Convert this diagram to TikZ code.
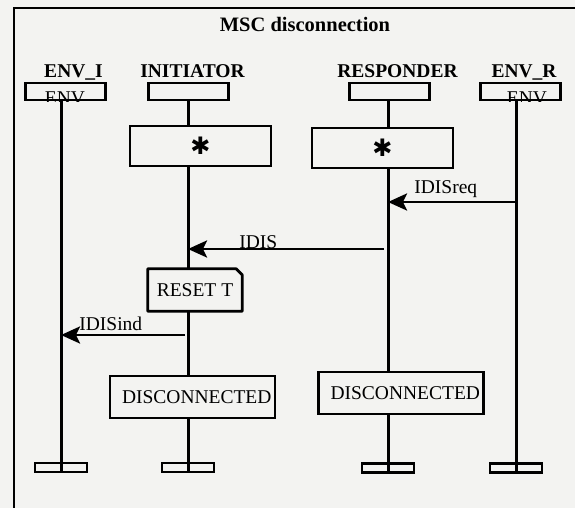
\documentclass[tikz,border=0pt]{standalone}
\usepackage{fontspec}
\setmainfont{Liberation Serif}
\newfontfamily\symfont{DejaVu Sans}
\usetikzlibrary{arrows.meta,backgrounds}
\definecolor{paper}{RGB}{243,243,241}
\tikzset{
  instbox/.style={rectangle,draw,line width=2.8pt,fill=paper,
    minimum width=80pt,minimum height=17pt,inner sep=0pt},
  condbox/.style={rectangle,draw,line width=2.8pt,fill=paper,
    minimum width=141pt,minimum height=40pt,inner sep=0pt,
    font=\symfont\fontsize{24}{24}\selectfont},
  discbox/.style={rectangle,draw,line width=2.8pt,fill=paper,
    text width=158pt,align=right,inner xsep=3.5pt,minimum height=42pt,
    font=\fontsize{19.5}{21}\selectfont},
  timerbox/.style={rectangle,fill=paper,minimum width=94pt,minimum height=42pt,
    inner sep=0pt,font=\fontsize{19.5}{21}\selectfont},
  endbar/.style={rectangle,draw,line width=2.2pt,
    minimum width=52pt,minimum height=9pt,inner sep=0pt},
  envtext/.style={font=\fontsize{19.5}{21}\selectfont,inner sep=0pt,anchor=north},
  lifeline/.style={line width=3pt},
  msg/.style={line width=2.8pt,-{Stealth[length=19pt,width=17pt,inset=4pt]}},
  instname/.style={font=\fontsize{19.5}{21}\selectfont\bfseries,anchor=base},
  msgname/.style={font=\fontsize{19.5}{21}\selectfont,anchor=base west,inner sep=0pt}
}

\begin{document}
\begin{tikzpicture}[x=1pt,y=-1pt]
\useasboundingbox (0,0) rectangle (575,508);
\clip (0,0) rectangle (575,508);
\draw[line width=2.8pt] (14,8) rectangle (620,560);
\node[font=\fontsize{20.5}{22}\selectfont\bfseries,anchor=base] (title) at (305,32)
  {MSC disconnection};
% ---------------- instance heads ----------------
\node[instname] (envIlab) at (73.5,78) {ENV\_I};
\node[instname] (initlab) at (192.5,78) {INITIATOR};
\node[instname] (resplab) at (397.5,78) {RESPONDER};
\node[instname] (envRlab) at (524,78) {ENV\_R};
\node[instbox] (envIhead) at (65.5,91.5) {};
\node[instbox] (inithead) at (188.5,91.5) {};
\node[instbox] (resphead) at (389.5,91.5) {};
\node[instbox] (envRhead) at (520.5,91.5) {};
\begin{scope}
  \clip (envIhead.south west) rectangle (envIhead.north east);
  \node[envtext] (envItxt) at (65,92) {ENV};
\end{scope}
\begin{scope}
  \clip (envRhead.south west) rectangle (envRhead.north east);
  \node[envtext] (envRtxt) at (527,92) {ENV};
\end{scope}
% ---------------- conditions and timer ----------------
\node[condbox] (initstar) at (200.5,146) {\raisebox{-7pt}{✱}};
\node[condbox] (respstar) at (382.5,148) {\raisebox{-7pt}{✱}};
\node[timerbox] (reset) at (195,290) {RESET T};
\draw[line width=2.8pt,line join=round] (reset.south west) -- (reset.north west)
  -- ([xshift=-6pt]reset.north east) -- ([yshift=-6pt]reset.north east)
  -- (reset.south east) -- cycle;
\node[discbox] (initdisc) at (192.5,397) {DISCONNECTED};
\node[discbox] (respdisc) at (401,393) {DISCONNECTED};
% ---------------- instance ends ----------------
\node[endbar] (envIend) at (61,467.5) {};
\node[endbar] (initend) at (188,467.5) {};
\node[endbar] (respend) at (388,468) {};
\node[endbar] (envRend) at (516,468) {};
% ---------------- lifelines ----------------
\begin{scope}[on background layer]
  \fill[paper] (0,0) rectangle (575,508);
  \draw[lifeline] (envIhead.south -| envIend) -- (envIend.south);
  \draw[lifeline] (inithead.south -| initend) -- (initend.south);
  \draw[lifeline] (resphead.south -| respend) -- (respend.south);
  \draw[lifeline] (envRhead.south -| envRend) -- (envRend.south);
\end{scope}
% ---------------- messages ----------------
\draw[msg] (envRend |- 0,202) --
  node[msgname,pos=0.805,yshift=9pt] {IDISreq} (respend |- 0,202);
\draw[msg,shorten <=4pt] (respend |- 0,249) --
  node[msgname,pos=0.75,yshift=1pt] {IDIS} (initend |- 0,249);
\draw[msg,shorten <=3pt] (initend |- 0,335) --
  node[msgname,pos=0.866,yshift=5pt] {IDISind} (envIend |- 0,335);
\end{tikzpicture}
\end{document}
